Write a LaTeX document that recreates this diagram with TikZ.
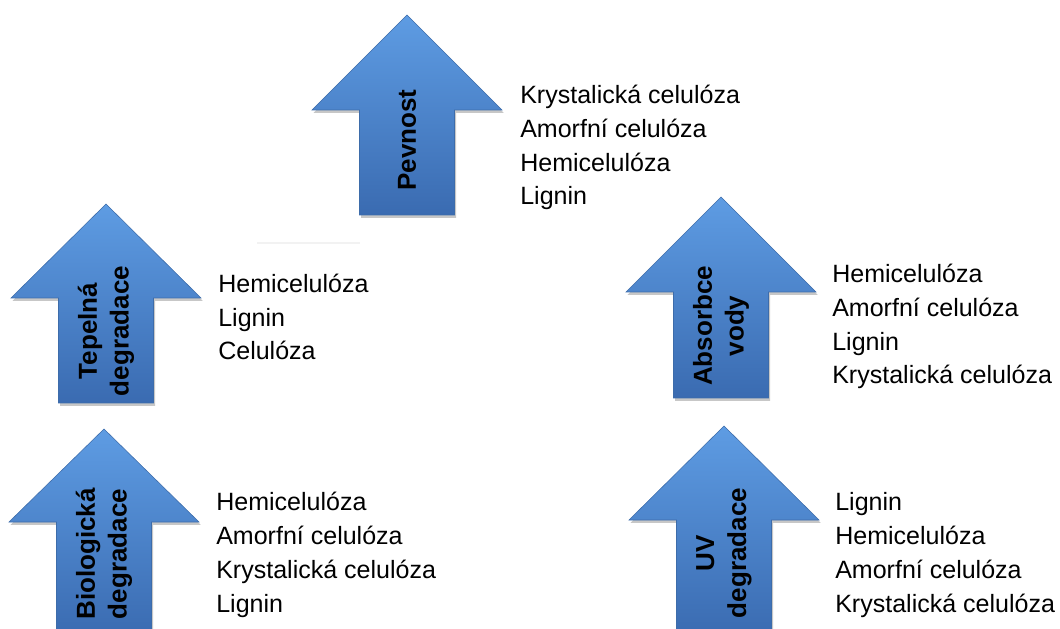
\documentclass[tikz,border=0pt]{standalone}
\usepackage{fontspec}
\setmainfont{Liberation Sans}
\usetikzlibrary{shadows}
\definecolor{arrtop}{HTML}{5E9CE3}
\definecolor{arrbot}{HTML}{3A6BB1}
\definecolor{arredge}{HTML}{3D6CAA}
\tikzset{
  uparr/.style={draw=arredge, line width=0.4pt, line join=miter, top color=arrtop, bottom color=arrbot,
    drop shadow={fill=black, opacity=0.22, shadow xshift=0.04cm, shadow yshift=-0.07cm}},
  arrlabel/.style={rotate=90, align=center, inner sep=0pt, font=\bfseries\fontsize{18.5pt}{22.7pt}\selectfont},
  partlist/.style={anchor=base west, align=left, inner sep=0pt, font=\fontsize{17.8pt}{23.95pt}\selectfont},
}
\begin{document}
\begin{tikzpicture}
\useasboundingbox (0,0) rectangle (26.5,15.7);
\clip (0,0) rectangle (26.5,15.7);
\draw[gray!10, line width=1pt] (6.425,9.625) -- (9.000,9.625);
% Pevnost
\draw[uparr] (10.175,15.325) -- (12.550,12.950) -- (11.363,12.950) -- (11.363,10.325) -- (8.988,10.325) -- (8.988,12.950) -- (7.800,12.950) -- cycle;
\node[arrlabel] (pevnost) at (10.175,12.200) {Pevnost};
\node[partlist] (pevnostlist) at (13.000,10.575) {Krystalická celulóza\\Amorfní celulóza\\Hemicelulóza\\Lignin};
% Tepelna degradace
\draw[uparr] (2.650,10.600) -- (5.025,8.250) -- (3.838,8.250) -- (3.838,5.625) -- (1.463,5.625) -- (1.463,8.250) -- (0.275,8.250) -- cycle;
\node[arrlabel] (tepelna) at (2.650,7.425) {Tepelná\\degradace};
\node[partlist] (tepelnalist) at (5.450,6.700) {Hemicelulóza\\Lignin\\Celulóza};
% Biologicka degradace
\draw[uparr] (2.600,4.975) -- (4.975,2.650) -- (3.788,2.650) -- (3.788,-0.200) -- (1.413,-0.200) -- (1.413,2.650) -- (0.225,2.650) -- cycle;
\node[arrlabel] (biologicka) at (2.600,1.850) {Biologická\\degradace};
\node[partlist] (biologickalist) at (5.400,0.400) {Hemicelulóza\\Amorfní celulóza\\Krystalická celulóza\\Lignin};
% Absorbce vody
\draw[uparr] (18.025,10.775) -- (20.400,8.400) -- (19.213,8.400) -- (19.213,5.750) -- (16.838,5.750) -- (16.838,8.400) -- (15.650,8.400) -- cycle;
\node[arrlabel] (absorbce) at (18.025,7.550) {Absorbce\\vody};
\node[partlist] (absorbcelist) at (20.800,6.100) {Hemicelulóza\\Amorfní celulóza\\Lignin\\Krystalická celulóza};
% UV degradace
\draw[uparr] (18.100,5.050) -- (20.475,2.700) -- (19.288,2.700) -- (19.288,-0.200) -- (16.913,-0.200) -- (16.913,2.700) -- (15.725,2.700) -- cycle;
\node[arrlabel] (uv) at (18.100,1.875) {UV\\degradace};
\node[partlist] (uvlist) at (20.875,0.400) {Lignin\\Hemicelulóza\\Amorfní celulóza\\Krystalická celulóza};
\end{tikzpicture}
\end{document}
